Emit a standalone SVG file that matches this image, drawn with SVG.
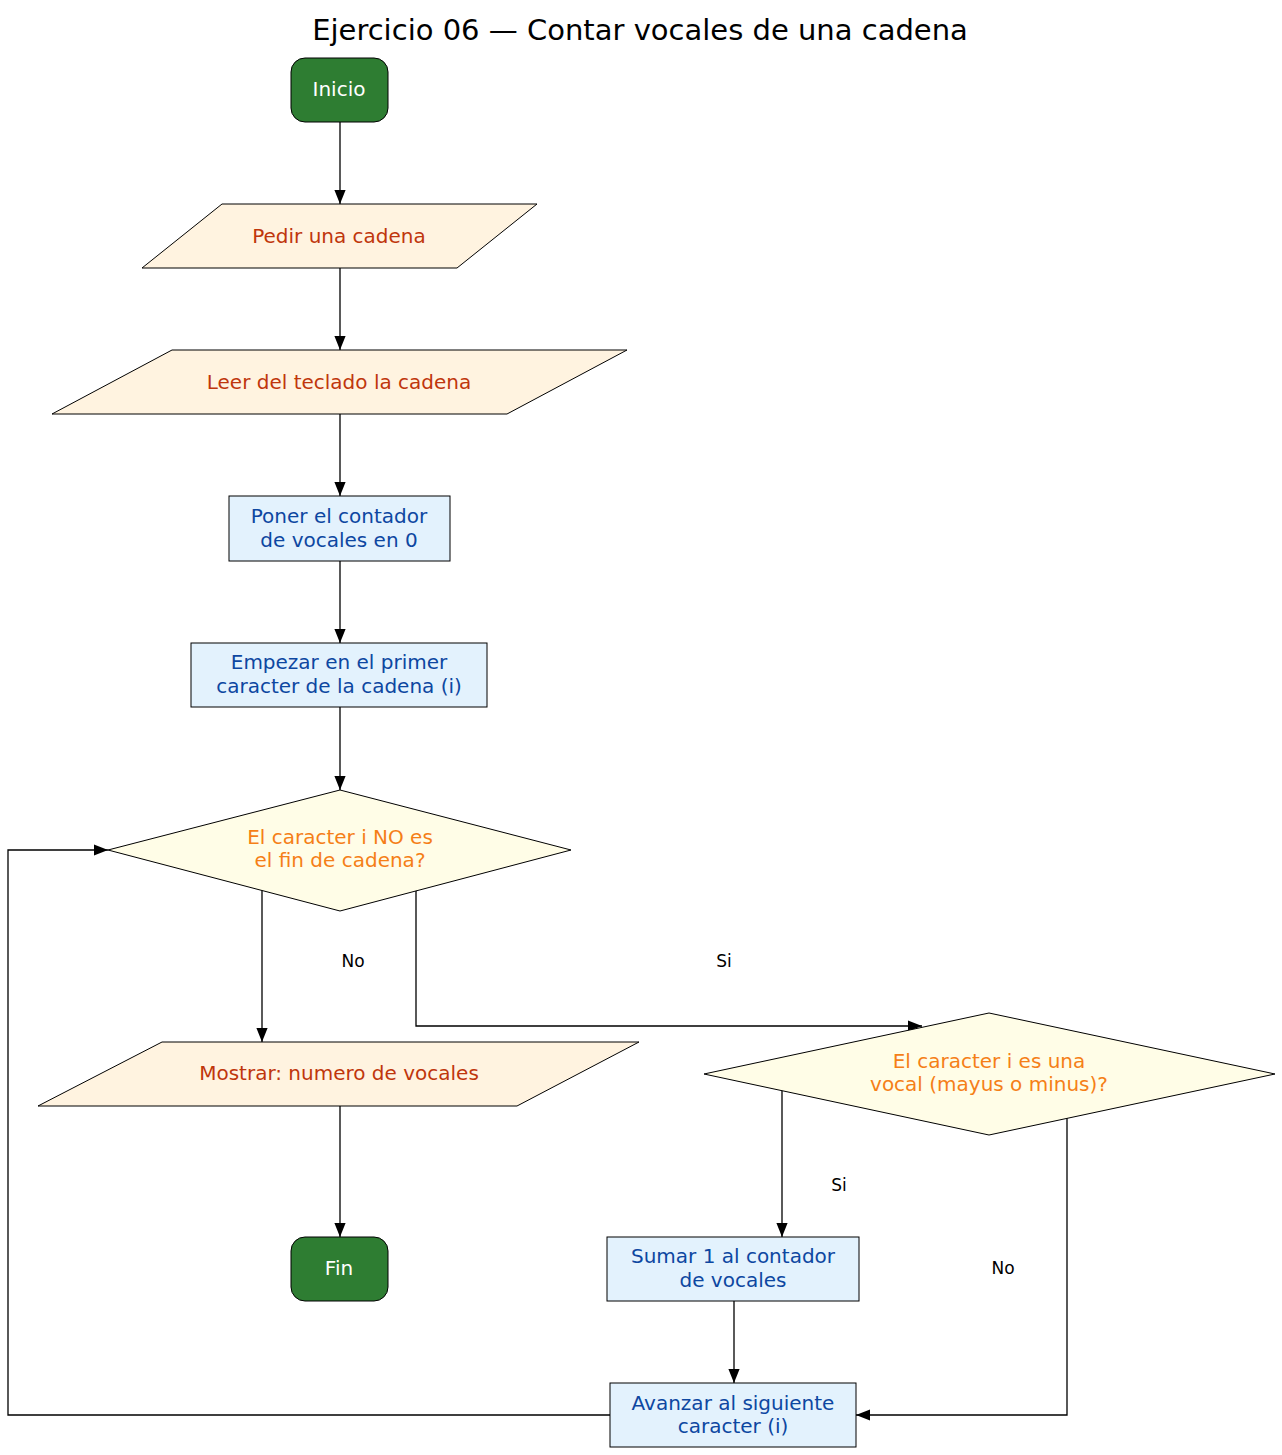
<svg xmlns="http://www.w3.org/2000/svg" width="1282" height="1455" viewBox="0 0 1282 1455">
<style>
text{font-family:"DejaVu Sans",sans-serif;text-anchor:middle}
.term rect{fill:#2e7d32;stroke:#000}
.term text{fill:#fff;font-size:20px}
.io polygon{fill:#fff3e0;stroke:#000}
.io text{fill:#bf360c;font-size:20px}
.pr rect{fill:#e3f2fd;stroke:#000}
.pr text{fill:#0d47a1;font-size:20px}
.dec polygon{fill:#fffde7;stroke:#000}
.dec text{fill:#f57f17;font-size:20px}
.e path{fill:none;stroke:#000;stroke-width:1.3}
.lbl{font-size:17px;fill:#000}
</style>
<defs><marker id="a" viewBox="0 0 10 10" refX="10" refY="5" markerWidth="14" markerHeight="14" markerUnits="userSpaceOnUse" orient="auto"><path d="M0,1 L10,5 L0,9 z" fill="#000"/></marker></defs>
<rect width="1282" height="1455" fill="#fff"/>
<text x="640" y="40" style="font-size:29px">Ejercicio 06 — Contar vocales de una cadena</text>
<g class="e">
<path d="M340,122V204" marker-end="url(#a)"/>
<path d="M340,268V350" marker-end="url(#a)"/>
<path d="M340,414V496" marker-end="url(#a)"/>
<path d="M340,561V643" marker-end="url(#a)"/>
<path d="M340,707V790" marker-end="url(#a)"/>
<path d="M262,890V1042" marker-end="url(#a)"/>
<path d="M416,890V1026H922" marker-end="url(#a)"/>
<path d="M782,1090V1237" marker-end="url(#a)"/>
<path d="M1067,1118V1415H856" marker-end="url(#a)"/>
<path d="M340,1106V1237" marker-end="url(#a)"/>
<path d="M734,1301V1383" marker-end="url(#a)"/>
<path d="M610,1415H8V850H108" marker-end="url(#a)"/>
<text class="lbl" x="353" y="967">No</text>
<text class="lbl" x="724" y="967">Si</text>
<text class="lbl" x="839" y="1191">Si</text>
<text class="lbl" x="1003" y="1274">No</text>
</g>
<g id="inicio" class="term"><rect x="291" y="58" width="97" height="64" rx="14"/><text x="339" y="96">Inicio</text></g>
<g id="pedir" class="io"><polygon points="142,268 222,204 537,204 457,268"/><text x="339" y="243">Pedir una cadena</text></g>
<g id="leer" class="io"><polygon points="52,414 172,350 627,350 507,414"/><text x="339" y="389">Leer del teclado la cadena</text></g>
<g id="poner" class="pr"><rect x="229" y="496" width="221" height="65"/><text x="339" y="523">Poner el contador</text><text x="339" y="547">de vocales en 0</text></g>
<g id="empezar" class="pr"><rect x="191" y="643" width="296" height="64"/><text x="339" y="669">Empezar en el primer</text><text x="339" y="693">caracter de la cadena (i)</text></g>
<g id="d1" class="dec"><polygon points="108,850 340,790 571,850 340,911"/><text x="340" y="844">El caracter i NO es</text><text x="340" y="867">el fin de cadena?</text></g>
<g id="mostrar" class="io"><polygon points="38,1106 162,1042 639,1042 517,1106"/><text x="339" y="1080">Mostrar: numero de vocales</text></g>
<g id="fin" class="term"><rect x="291" y="1237" width="97" height="64" rx="14"/><text x="339" y="1275">Fin</text></g>
<g id="d2" class="dec"><polygon points="704,1074 989,1013 1275,1074 989,1135"/><text x="989" y="1068">El caracter i es una</text><text x="989" y="1091">vocal (mayus o minus)?</text></g>
<g id="sumar" class="pr"><rect x="607" y="1237" width="252" height="64"/><text x="733" y="1263">Sumar 1 al contador</text><text x="733" y="1287">de vocales</text></g>
<g id="avanzar" class="pr"><rect x="610" y="1383" width="246" height="64"/><text x="733" y="1410">Avanzar al siguiente</text><text x="733" y="1433">caracter (i)</text></g>
</svg>
